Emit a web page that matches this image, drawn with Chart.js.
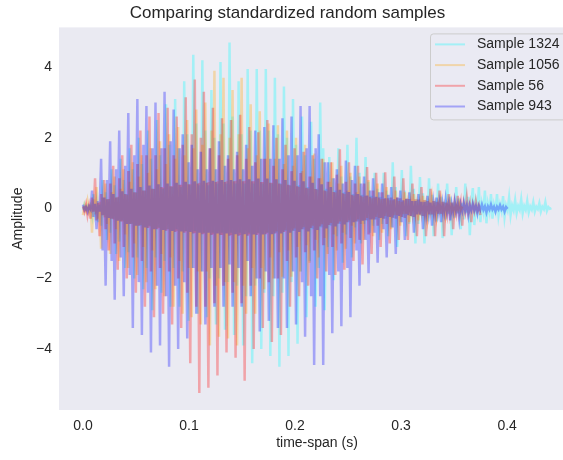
<!DOCTYPE html>
<html>
<head>
<meta charset="utf-8">
<script src="https://cdn.jsdelivr.net/npm/chart.js@4.4.1/dist/chart.umd.min.js"></script>
<style>
  html, body { margin: 0; padding: 0; background: #fff; overflow: hidden; }
  #wrap { width: 632px; height: 460px; }
</style>
</head>
<body>
<div id="wrap"><canvas id="chartSamples" width="632" height="460"></canvas></div>
<script>
// time between two samples (s)
const sampleStep = 0.001425;

const sampleNames = ['Sample 1324', 'Sample 1056', 'Sample 56', 'Sample 943'];

// amplitudes, one value per sample (6 samples per pitch period)
const sample1324 = [
  -0.05, 0.1, -0.03, 0.05, -0.1, 0.04,    -0.2, 0.4, -0.1, 0.2, -0.4, 0.1,
  -0.5, 0.8, -0.2, 0.45, -0.9, 0.25,      -0.7, 1.1, -0.3, 0.65, -1.3, 0.3,
  -0.95, 1.4, -0.35, 0.8, -1.7, 0.4,      -1.25, 1.7, -0.45, 1.1, -2.0, 0.45,
  -1.4, 2.0, -0.5, 1.25, -2.3, 0.5,       -1.7, 2.2, -0.5, 1.4, -2.9, 0.55,
  -1.4, 2.5, -0.55, 1.5, -2.4, 0.55,      -1.5, 2.95, -0.6, 1.8, -2.8, 0.6,
  -1.7, 3.1, -0.6, 1.7, -2.8, 0.6,        -1.8, 3.6, -0.65, 2.1, -3.2, 0.65,
  -1.7, 4.35, -0.65, 2.4, -3.0, 0.65,     -1.8, 4.2, -0.7, 2.2, -3.1, 0.65,
  -2.0, 3.35, -0.7, 2.0, -3.3, 0.7,       -2.0, 4.15, -0.7, 2.4, -3.45, 0.7,
  -2.1, 4.7, -0.7, 2.6, -3.6, 0.7,        -2.2, 3.6, -0.7, 2.1, -3.9, 0.7,
  -2.5, 3.95, -0.7, 2.2, -4.4, 0.7,       -2.2, 3.95, -0.7, 2.2, -4.0, 0.7,
  -2.4, 3.95, -0.7, 2.2, -4.2, 0.7,       -2.5, 3.7, -0.7, 2.1, -4.5, 0.7,
  -2.4, 3.45, -0.65, 2.0, -4.2, 0.65,     -2.1, 3.1, -0.65, 1.8, -3.85, 0.65,
  -1.8, 2.6, -0.6, 1.5, -3.1, 0.6,        -1.5, 2.45, -0.6, 1.4, -2.8, 0.55,
  -1.7, 3.0, -0.55, 1.7, -2.9, 0.55,      -1.1, 1.45, -0.5, 0.85, -2.05, 0.5,
  -0.8, 1.7, -0.45, 0.9, -1.55, 0.45,     -0.75, 1.8, -0.4, 0.9, -1.4, 0.4,
  -0.55, 2.0, -0.38, 1.0, -1.0, 0.38,     -0.45, 1.45, -0.35, 0.75, -0.7, 0.35,
  -0.5, 1.0, -0.32, 0.55, -0.9, 0.32,     -0.45, 1.0, -0.3, 0.5, -0.8, 0.3,
  -0.55, 1.3, -0.28, 0.6, -1.1, 0.28,     -0.4, 1.08, -0.26, 0.5, -0.8, 0.26,
  -0.45, 1.2, -0.25, 0.55, -1.0, 0.25,    -0.45, 0.88, -0.22, 0.42, -1.0, 0.22,
  -0.38, 0.85, -0.2, 0.38, -0.8, 0.2,     -0.38, 0.7, -0.18, 0.32, -0.85, 0.18,
  -0.32, 0.7, -0.16, 0.32, -0.77, 0.16,   -0.27, 0.6, -0.15, 0.27, -0.6, 0.15,
  -0.32, 0.7, -0.14, 0.32, -0.77, 0.14,
  // faster tail
  0.57, -0.48, 0.15, -0.1,   0.6, -0.4, 0.12, -0.1,    0.5, -0.43, 0.12, -0.1,
  0.4, -0.3, 0.1, -0.08,     0.4, -0.2, 0.1, -0.08,    0.34, -0.25, 0.08, -0.06,
  0.3, -0.2, 0.08, -0.06,    0.23, -0.14, 0.06, -0.05, 0.25, -0.15, 0.06, -0.05,
  0.2, -0.12, 0.05, -0.04,   0.17, -0.1, 0.04, -0.03,  0.14, -0.1, 0.04, -0.03,
  0.17, -0.08, 0.03, -0.02, 0.0
];
const sample1056 = [
  -0.2, 0.08, -0.06, 0.2, -0.08, 0.05,     -0.7, 0.25, -0.18, 0.6, -0.3, 0.18,
  -1.15, 0.3, -0.26, 0.7, -0.45, 0.26,     -1.3, 0.45, -0.32, 0.9, -0.6, 0.32,
  -1.5, 0.55, -0.38, 1.1, -0.75, 0.38,     -1.7, 0.75, -0.44, 1.3, -1.0, 0.44,
  -1.9, 0.9, -0.48, 1.5, -1.1, 0.5,        -2.1, 1.0, -0.52, 1.7, -1.2, 0.54,
  -2.3, 1.1, -0.56, 1.9, -1.3, 0.58,       -2.5, 1.25, -0.6, 2.1, -1.4, 0.62,
  -2.8, 1.4, -0.64, 2.3, -1.5, 0.66,       -3.0, 1.5, -0.66, 2.5, -1.7, 0.68,
  -3.1, 1.7, -0.7, 2.8, -1.8, 0.72,        -3.3, 1.8, -0.72, 3.0, -1.8, 0.74,
  -3.9, 2.2, -0.74, 3.9, -2.2, 0.76,       -3.65, 2.1, -0.76, 3.7, -2.1, 0.78,
  -3.7, 2.0, -0.76, 3.35, -2.1, 0.78,      -3.9, 2.1, -0.76, 3.7, -2.2, 0.78,
  -3.0, 1.7, -0.74, 2.95, -1.7, 0.76,      -3.0, 1.5, -0.72, 2.75, -1.7, 0.74,
  -2.3, 1.4, -0.7, 2.4, -1.4, 0.72,        -2.0, 1.4, -0.66, 2.35, -1.25, 0.68,
  -1.95, 1.25, -0.62, 2.2, -1.2, 0.64,     -1.95, 1.2, -0.58, 2.0, -1.1, 0.6,
  -1.8, 1.05, -0.54, 1.8, -1.05, 0.56,     -1.55, 0.9, -0.5, 1.55, -0.9, 0.52,
  -1.4, 0.85, -0.46, 1.4, -0.85, 0.48,     -1.3, 0.75, -0.42, 1.3, -0.75, 0.44,
  -1.2, 0.7, -0.38, 1.2, -0.7, 0.4,        -1.15, 0.5, -0.35, 1.0, -0.5, 0.36,
  -1.0, 0.45, -0.32, 0.9, -0.45, 0.32,     -0.9, 0.35, -0.28, 0.8, -0.32, 0.28,
  -0.8, 0.3, -0.25, 0.7, -0.28, 0.25,      -0.7, 0.26, -0.22, 0.6, -0.24, 0.22,
  -0.6, 0.22, -0.2, 0.5, -0.2, 0.2,        -0.5, 0.18, -0.17, 0.45, -0.16, 0.17,
  -0.4, 0.16, -0.15, 0.4, -0.14, 0.15,     -0.35, 0.14, -0.13, 0.35, -0.12, 0.13,
  -0.3, 0.12, -0.11, 0.3, -0.1, 0.11,      -0.25, 0.1, -0.09, 0.25, -0.08, 0.09,
  -0.2, 0.08, -0.07, 0.2, -0.06, 0.07,     -0.15, 0.06, -0.05, 0.15, -0.04, 0.05
];
const sample56 = [
  0.05, -0.1, 0.1, -0.2, 0.05, -0.3,       0.3, -0.1, 0.85, -0.35, 0.15, -0.8,
  0.4, -0.2, 0.8, -0.6, 0.25, -1.2,        0.7, -0.3, 1.2, -1.0, 0.3, -1.75,
  0.85, -0.38, 1.5, -1.1, 0.4, -2.0,       1.05, -0.45, 1.8, -1.4, 0.45, -2.4,
  1.25, -0.5, 2.2, -1.5, 0.5, -2.8,        1.5, -0.56, 2.6, -1.8, 0.55, -3.1,
  1.5, -0.6, 2.7, -1.7, 0.6, -3.0,         1.7, -0.64, 2.85, -1.8, 0.62, -3.3,
  1.5, -0.68, 2.6, -2.0, 0.66, -3.4,       1.8, -0.7, 3.15, -2.4, 0.68, -4.4,
  2.1, -0.72, 3.65, -2.8, 0.7, -5.25,      2.0, -0.74, 3.3, -2.8, 0.72, -5.1,
  1.7, -0.76, 2.85, -2.7, 0.74, -4.75,     1.5, -0.76, 2.55, -2.2, 0.74, -4.1,
  1.4, -0.78, 2.5, -2.4, 0.76, -4.25,      1.5, -0.78, 2.65, -2.7, 0.76, -4.9,
  1.4, -0.78, 2.3, -2.2, 0.76, -4.0,       1.3, -0.76, 2.15, -2.0, 0.74, -3.4,
  1.4, -0.74, 2.5, -2.1, 0.72, -3.8,       1.2, -0.72, 2.0, -2.0, 0.7, -3.6,
  1.1, -0.68, 1.8, -1.5, 0.66, -2.8,       1.05, -0.64, 1.7, -1.4, 0.62, -2.5,
  1.0, -0.6, 1.6, -1.25, 0.58, -2.2,       0.9, -0.56, 1.5, -1.2, 0.54, -2.0,
  0.85, -0.52, 1.4, -1.05, 0.5, -1.8,      0.75, -0.48, 1.3, -1.1, 0.46, -1.9,
  0.95, -0.44, 1.67, -1.0, 0.42, -1.75,    0.75, -0.4, 1.3, -0.85, 0.38, -1.5,
  0.7, -0.38, 1.2, -0.9, 0.36, -1.6,       0.7, -0.34, 1.17, -0.75, 0.32, -1.3,
  0.5, -0.32, 1.0, -0.5, 0.3, -1.1,        0.45, -0.3, 1.02, -0.45, 0.28, -1.0,
  0.3, -0.27, 0.9, -0.3, 0.3, -0.9,        0.28, -0.25, 0.85, -0.28, 0.27, -0.9,
  0.26, -0.23, 0.7, -0.25, 0.25, -0.8,     0.24, -0.2, 0.6, -0.22, 0.23, -0.8,
  0.2, -0.18, 0.55, -0.18, 0.2, -0.8,      0.18, -0.16, 0.5, -0.16, 0.18, -0.8,
  0.16, -0.14, 0.4, -0.14, 0.16, -0.6,     0.14, -0.12, 0.35, -0.12, 0.14, -0.5,
  0.12, -0.1, 0.3, -0.1, 0.12, -0.4,       0.1, -0.08, 0.2, -0.06, 0.08, -0.2
];
const sample943 = [
  0.1, -0.05, 0.03, -0.1, 0.05, -0.03,     0.5, -0.25, 0.12, -0.6, 0.2, -0.1,
  1.4, -1.2, 0.3, -2.2, 0.8, -0.28,        1.9, -1.5, 0.4, -2.6, 1.1, -0.36,
  2.2, -1.4, 0.48, -2.5, 1.2, -0.45,       2.7, -1.9, 0.55, -3.4, 1.5, -0.5,
  3.1, -2.1, 0.6, -3.6, 1.8, -0.55,        2.9, -2.4, 0.64, -4.1, 1.7, -0.6,
  3.0, -2.2, 0.68, -3.9, 1.7, -0.62,       3.3, -2.5, 0.7, -4.5, 1.9, -0.65,
  2.8, -2.2, 0.72, -4.0, 1.7, -0.66,       2.1, -2.1, 0.75, -3.7, 1.3, -0.68,
  1.8, -1.7, 0.76, -3.0, 1.1, -0.7,        1.6, -1.8, 0.78, -3.3, 1.1, -0.7,
  1.7, -1.7, 0.78, -2.8, 1.1, -0.72,       1.9, -1.7, 0.8, -2.8, 1.2, -0.72,
  1.5, -1.6, 0.8, -2.8, 1.1, -0.74,        1.6, -1.7, 0.82, -2.8, 1.1, -0.74,
  1.8, -1.5, 0.82, -2.5, 1.2, -0.75,       2.2, -2.0, 0.84, -3.5, 1.4, -0.75,
  2.3, -1.8, 0.84, -3.2, 1.4, -0.74,       2.35, -2.0, 0.82, -3.4, 1.4, -0.72,
  2.55, -2.0, 0.8, -3.4, 1.5, -0.7,        2.6, -1.8, 0.78, -3.3, 1.5, -0.68,
  2.9, -2.1, 0.76, -3.65, 1.7, -0.66,      2.9, -2.5, 0.72, -4.45, 1.7, -0.62,
  2.1, -2.5, 0.68, -4.45, 1.3, -0.58,      1.3, -1.9, 0.6, -3.55, 0.85, -0.52,
  1.1, -1.8, 0.52, -3.35, 0.7, -0.46,      1.35, -1.7, 0.46, -3.1, 0.8, -0.4,
  1.2, -1.2, 0.4, -2.2, 0.7, -0.36,        0.9, -0.9, 0.36, -1.85, 0.5, -0.32,
  0.85, -0.7, 0.32, -1.55, 0.45, -0.28,    0.7, -0.6, 0.28, -1.4, 0.38, -0.25,
  0.6, -0.55, 0.25, -1.3, 0.3, -0.22,      0.5, -0.4, 0.22, -0.9, 0.26, -0.2,
  0.45, -0.22, 0.2, -0.7, 0.2, -0.18,      0.4, -0.18, 0.18, -0.6, 0.18, -0.16,
  0.35, -0.16, 0.16, -0.5, 0.16, -0.14,    0.3, -0.14, 0.14, -0.4, 0.14, -0.12,
  0.25, -0.12, 0.12, -0.35, 0.12, -0.1,    0.2, -0.1, 0.1, -0.3, 0.1, -0.08,
  0.15, -0.08, 0.08, -0.2, 0.08, -0.06,    0.12, -0.06, 0.06, -0.15, 0.06, -0.05,
  0.1, -0.05, 0.05, -0.12, 0.05, -0.04,    0.1, -0.04, 0.04, -0.1, 0.04, -0.04,
  0.08, -0.04, 0.04, -0.1, 0.03, -0.02
];

const xTicks = [0.0, 0.1, 0.2, 0.3, 0.4];
const yTicks = [-4, -2, 0, 2, 4];

const lineColors = ['rgba(0,255,255,0.3)', 'rgba(255,165,0,0.3)', 'rgba(255,0,0,0.3)', 'rgba(0,0,255,0.3)'];
const fontFamily = '"Liberation Sans", Arial, sans-serif';
const textColor = '#262626';

const allSamples = [sample1324, sample1056, sample56, sample943];

const datasets = allSamples.map((values, i) => ({
    label: sampleNames[i],
    data: values.map((v, j) => ({ x: j * sampleStep, y: v })),
    borderColor: lineColors[i],
    borderWidth: 2.5,
    pointRadius: 0,
    tension: 0,
    order: allSamples.length - i   // last sample on top, like the original
}));

// grey plot background
const plotBackground = {
    id: 'plotBackground',
    beforeDraw(chart) {
        const { ctx, chartArea: a } = chart;
        ctx.save();
        ctx.fillStyle = '#EAEAF2';
        ctx.fillRect(a.left, a.top, a.right - a.left, a.bottom - a.top);
        ctx.restore();
    }
};

// legend box inside the plot, upper right
const boxLegend = {
    id: 'boxLegend',
    afterDatasetsDraw(chart) {
        const { ctx, chartArea: a } = chart;
        const right = a.right - 6, left = a.right - 145, top = a.top + 6, bottom = a.top + 92;
        ctx.save();
        ctx.beginPath();
        if (ctx.roundRect) ctx.roundRect(left + 0.5, top + 0.5, right - left, bottom - top, 3);
        else ctx.rect(left + 0.5, top + 0.5, right - left, bottom - top);
        ctx.fillStyle = 'rgba(234,234,242,0.8)';
        ctx.fill();
        ctx.strokeStyle = '#cccccc';
        ctx.lineWidth = 1;
        ctx.stroke();
        ctx.font = '14px ' + fontFamily;
        ctx.textBaseline = 'middle';
        chart.data.datasets.forEach((ds, i) => {
            const y = top + 11 + i * 20.7;
            ctx.strokeStyle = ds.borderColor;
            ctx.lineWidth = 2;
            ctx.beginPath();
            ctx.moveTo(left + 5, y);
            ctx.lineTo(left + 35, y);
            ctx.stroke();
            ctx.fillStyle = textColor;
            ctx.fillText(ds.label, left + 47, y);
        });
        ctx.restore();
    }
};

const ctxSamples = document.getElementById('chartSamples');
new Chart(ctxSamples, {
    type: 'line',
    data: { datasets: datasets },
    options: {
        responsive: false,
        animation: false,
        devicePixelRatio: 1,
        layout: { padding: { left: 0, right: 57, top: 0, bottom: 0 } },
        plugins: {
            legend: { display: false },
            tooltip: { enabled: false },
            title: {
                display: true,
                text: 'Comparing standardized random samples',
                color: textColor,
                font: { family: fontFamily, size: 17, weight: 'normal' },
                padding: { top: 3, bottom: 4 }
            }
        },
        scales: {
            x: {
                type: 'linear',
                min: -0.0226,
                max: 0.464,
                grid: { display: false, drawTicks: false },
                border: { display: false },
                afterBuildTicks: (scale) => { scale.ticks = xTicks.map(v => ({ value: v })); },
                afterFit: (scale) => { scale.height = 50; },
                ticks: {
                    color: textColor,
                    font: { family: fontFamily, size: 14 },
                    padding: 8,
                    maxRotation: 0,
                    autoSkip: false,
                    callback: (v) => Number(v).toFixed(1)
                },
                title: {
                    display: true,
                    text: 'time-span (s)',
                    color: textColor,
                    font: { family: fontFamily, size: 14 },
                    padding: { top: 0, bottom: 8 }
                }
            },
            y: {
                min: -5.73,
                max: 5.13,
                grid: { display: false, drawTicks: false },
                border: { display: false },
                afterBuildTicks: (scale) => { scale.ticks = yTicks.map(v => ({ value: v })); },
                afterFit: (scale) => { scale.width = 59; },
                ticks: {
                    color: textColor,
                    font: { family: fontFamily, size: 14 },
                    padding: 7,
                    autoSkip: false,
                    callback: (v) => v < 0 ? '\u2212' + Math.abs(v) : String(v)
                },
                title: {
                    display: true,
                    text: 'Amplitude',
                    color: textColor,
                    font: { family: fontFamily, size: 14 },
                    padding: { top: 10, bottom: 0 }
                }
            }
        }
    },
    plugins: [plotBackground, boxLegend]
});
</script>
</body>
</html>
